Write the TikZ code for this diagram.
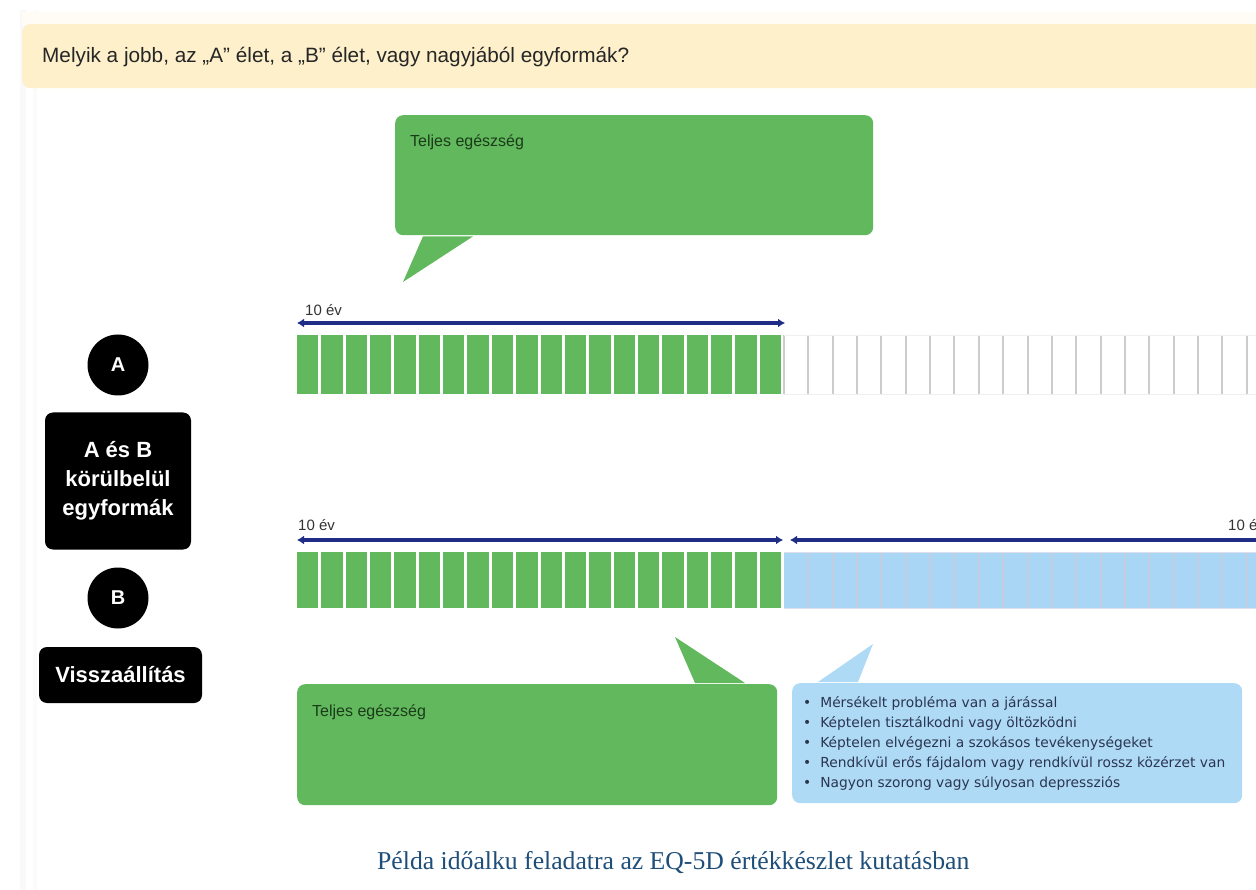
\documentclass[tikz,border=0pt]{standalone}
\usepackage{fontspec}
\usepackage{graphicx}
\setmainfont{Liberation Sans}
\newfontfamily\capfont{Liberation Serif}
\newfontfamily\listfont{DejaVu Sans}
\usetikzlibrary{arrows.meta}
\definecolor{bannerY}{HTML}{FDF0CA}
\definecolor{gr}{HTML}{62B85C}
\definecolor{grtext}{HTML}{1B3B1B}
\definecolor{navy}{HTML}{1F2D86}
\definecolor{lblue}{HTML}{A9D6F5}
\definecolor{bubblue}{HTML}{AFDAF6}
\definecolor{sepblue}{HTML}{C4CCE0}
\definecolor{capblue}{HTML}{1F4E79}
\definecolor{listtext}{HTML}{2A3550}
\definecolor{labgray}{HTML}{333333}
\begin{document}
\begin{tikzpicture}[x=1pt,y=-1pt,
  blackbox/.style={fill=black, text=white, rounded corners=8pt, inner sep=0pt,
    font=\bfseries\fontsize{22}{29}\selectfont, align=center},
  letter/.style={circle, fill=black, text=white, minimum size=61pt, inner sep=0pt,
    font=\bfseries\fontsize{20}{22}\selectfont},
  bubble/.style={rounded corners=8pt, inner sep=0pt, anchor=north west},
  bubtext/.style={anchor=west, inner sep=0pt, text=grtext, font=\fontsize{16}{19}\selectfont},
  yearlab/.style={anchor=west, inner sep=0pt, text=labgray, font=\fontsize{15}{17}\selectfont},
  span/.style={navy, line width=3.2pt, {Latex[length=7pt,width=9pt]}-{Latex[length=7pt,width=9pt]}}
]
\useasboundingbox (0,0) rectangle (1256,890);
\clip (0,0) rectangle (1256,890);
\fill[white] (0,0) rectangle (1256,890);

% screenshot frame
\fill[gray!5] (20,10) rectangle (26,890);
\fill[gray!3] (33,10) rectangle (37,890);

% banner
\fill[bannerY!18] (22,12) rectangle (1270,26);
\node[bubble, fill=bannerY, minimum width=1250pt, minimum height=64pt] (banner) at (22,24) {};
\node[anchor=west, inner sep=0pt, text=black!85] (question) at (42,57)
  {\resizebox{587pt}{!}{\fontsize{17.5}{20}\selectfont Melyik a jobb, az „A” élet, a „B” élet, vagy nagyjából egyformák?}};

% top bubble
\node[bubble, fill=gr, minimum width=478pt, minimum height=120pt] (topbub) at (395,115) {};
\coordinate (toptip) at (403,282);
\fill[gr] ([xshift=28pt,yshift=-1pt]topbub.south west) -- (toptip) -- ([xshift=78pt,yshift=-1pt]topbub.south west) -- cycle;
\node[bubtext] (toptext) at ([xshift=15pt,yshift=-27pt]topbub.north west) {Teljes egészség};

% left controls
\node[letter] (A) at (118,365) {A};
\node[blackbox, minimum width=146pt, minimum height=137pt] (same) at (118,481)
  {A és B\\körülbelül\\egyformák};
\node[letter] (B) at (118,598) {B};
\node[blackbox, minimum width=163pt, minimum height=56pt] (reset) at (120.5,675) {Visszaállítás};

% row A
\node[yearlab] (labA) at (305,310) {10 év};
\foreach \i in {20,...,40} {
  \draw[gray!40, line width=2pt] ({297+\i*24.35},335) -- ({297+\i*24.35},394);
}
\draw[gray!12, line width=0.8pt] (784,335) -- (1260,335) (784,394) -- (1260,394);
\foreach \i in {0,...,19} {
  \fill[gr] ({297+\i*24.35},335) rectangle ({297+(\i+1)*24.35-3},394);
}
\coordinate (a0) at (297,323);
\coordinate (a1) at (785,323);
\draw[span] (a0) -- (a1);

% row B
\node[yearlab] (labB) at (298,525) {10 év};
\node[yearlab] (labB2) at (1228,525) {10 év};
\fill[lblue] (784,552) rectangle (1260,608);
\foreach \i in {21,...,40} {
  \draw[sepblue, line width=2pt] ({297+\i*24.35},552) -- ({297+\i*24.35},608);
}
\draw[sepblue!60, line width=0.8pt] (784,552) -- (1260,552) (784,608) -- (1260,608);
\foreach \i in {0,...,19} {
  \fill[gr] ({297+\i*24.35},552) rectangle ({297+(\i+1)*24.35-3},608);
}
\coordinate (b0) at (297,540);
\coordinate (b1) at (783,540);
\coordinate (b2) at (790,540);
\coordinate (b3) at (1275,540);
\draw[span] (b0) -- (b1);
\draw[span] (b2) -- (b3);

% lower green bubble
\node[bubble, fill=gr, minimum width=480pt, minimum height=121pt] (lowbub) at (297,684) {};
\coordinate (lowtip) at (675,637);
\fill[gr] ([xshift=398pt,yshift=1pt]lowbub.north west) -- (lowtip) -- ([xshift=448pt,yshift=1pt]lowbub.north west) -- cycle;
\node[bubtext] (lowtext) at ([xshift=15pt,yshift=-28pt]lowbub.north west) {Teljes egészség};

% blue bubble
\node[bubble, fill=bubblue, minimum width=450pt, minimum height=120pt] (bluebub) at (792,683) {};
\coordinate (bluetip) at (873,644);
\fill[bubblue] ([xshift=26pt,yshift=1pt]bluebub.north west) -- (bluetip) -- ([xshift=66pt,yshift=1pt]bluebub.north west) -- cycle;
\node[anchor=west, inner sep=0pt, text=listtext, align=left,
      font=\listfont\fontsize{13.8}{20}\selectfont] (list) at ([xshift=11pt]bluebub.west)
  {•\hspace{9pt}Mérsékelt probléma van a járással\\
   •\hspace{9pt}Képtelen tisztálkodni vagy öltözködni\\
   •\hspace{9pt}Képtelen elvégezni a szokásos tevékenységeket\\
   •\hspace{9pt}Rendkívül erős fájdalom vagy rendkívül rossz közérzet van\\
   •\hspace{9pt}Nagyon szorong vagy súlyosan depressziós};

% caption
\node[anchor=west, inner sep=0pt, text=capblue] (caption) at (377,863)
  {\resizebox{592pt}{!}{\capfont\fontsize{22}{26}\selectfont Példa időalku feladatra az EQ-5D értékkészlet kutatásban}};
\end{tikzpicture}
\end{document}
